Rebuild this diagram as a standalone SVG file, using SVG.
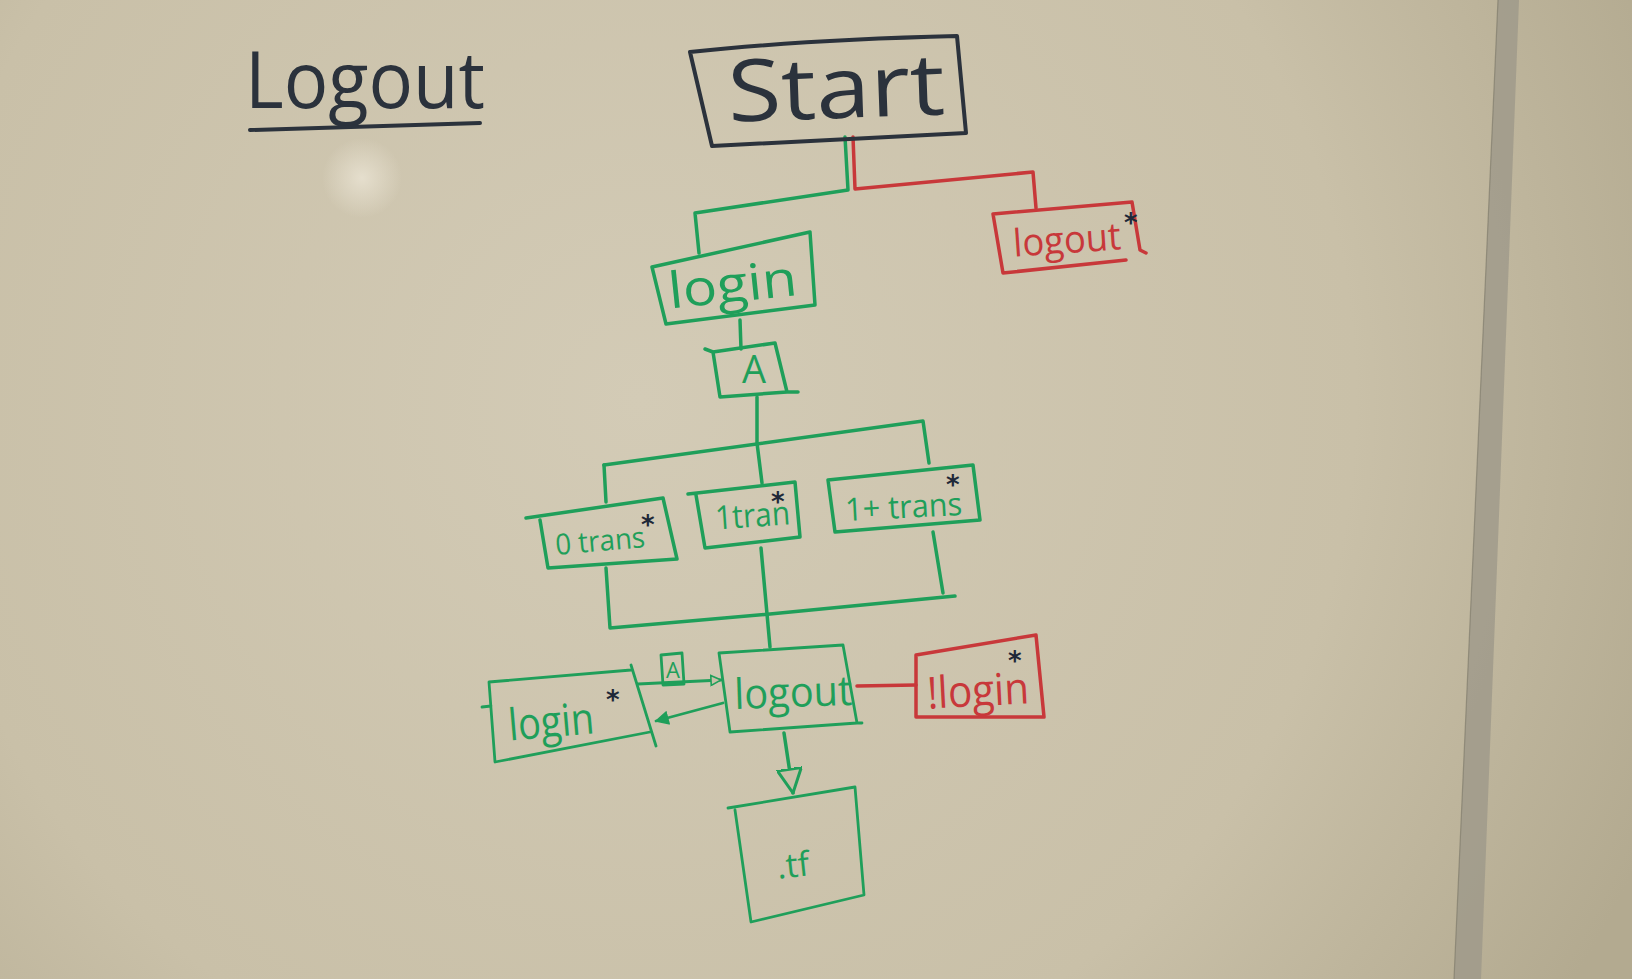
<svg xmlns="http://www.w3.org/2000/svg" width="1632" height="979" viewBox="0 0 1632 979">
<defs>
<radialGradient id="board" cx="640" cy="400" r="1100" gradientUnits="userSpaceOnUse">
<stop offset="0" stop-color="#d3cbb6"/>
<stop offset="0.65" stop-color="#c9c0a8"/>
<stop offset="1" stop-color="#b3aa90"/>
</radialGradient>
<radialGradient id="glare" cx="362" cy="178" r="40" gradientUnits="userSpaceOnUse">
<stop offset="0" stop-color="#efe9da" stop-opacity="0.7"/>
<stop offset="1" stop-color="#efe9da" stop-opacity="0"/>
</radialGradient>
<marker id="openTri" viewBox="0 0 12 12" refX="11" refY="6" markerWidth="12" markerHeight="12" markerUnits="userSpaceOnUse" orient="auto">
<path d="M1,1 L11,6 L1,11 z" fill="#c9c0a8" stroke="#1f9f5a" stroke-width="1.6"/>
</marker>
<marker id="openTriBig" viewBox="0 0 26 26" refX="25" refY="13" markerWidth="26" markerHeight="26" markerUnits="userSpaceOnUse" orient="auto">
<path d="M1,1 L25,13 L1,25 z" fill="#c9c0a8" stroke="#1f9f5a" stroke-width="3"/>
</marker>
<marker id="fillTri" viewBox="0 0 14 14" refX="13" refY="7" markerWidth="14" markerHeight="14" markerUnits="userSpaceOnUse" orient="auto">
<path d="M1,1 L13,7 L1,13 z" fill="#1f9f5a" stroke="#1f9f5a" stroke-width="1.5"/>
</marker>
<style>
.g{stroke:#1f9f5a;fill:none;stroke-width:3.5;stroke-linejoin:round;stroke-linecap:round}
.gt{stroke:#1f9f5a;fill:none;stroke-width:2.8;stroke-linejoin:round;stroke-linecap:round}
.r{stroke:#c8383a;fill:none;stroke-width:3.5;stroke-linejoin:round;stroke-linecap:round}
.k{stroke:#2b323c;fill:none;stroke-width:4;stroke-linejoin:round;stroke-linecap:round}
text{font-family:"Open Sans","DejaVu Sans",sans-serif}
.tg{fill:#1f9f5a}
.tr{fill:#c8383a}
.tk{fill:#2b323c}
.ast{fill:#1e2838;font-family:"DejaVu Sans",sans-serif;font-weight:bold}
</style>
</defs>

<rect x="0" y="0" width="1632" height="979" fill="url(#board)"/>
<circle cx="362" cy="178" r="40" fill="url(#glare)"/>
<polygon points="1498,0 1519,0 1481,979 1454,979" fill="#9d998a" opacity="0.8"/>
<line x1="1498" y1="0" x2="1454" y2="979" stroke="#6f6c5e" stroke-width="1.2" opacity="0.5"/>

<g id="title">
<text x="245" y="108" font-size="78" class="tk" textLength="240" lengthAdjust="spacingAndGlyphs">Logout</text>
<path class="k" d="M250,130 L480,123" stroke-width="3"/>
</g>

<g id="connectors">
<path class="g" d="M845,137 L848,190 L695,213 L699,253"/>
<path class="r" d="M853,137 L855,189 L1033,172 L1036,208"/>
<path class="g" d="M740,320 L741,349"/>
<path class="g" d="M757,397 L757,443 L762,483"/>
<path class="g" d="M604,465 L923,421 L929,463"/>
<path class="g" d="M604,465 L606,502"/>
<path class="g" d="M606,568 L610,628 L770,614 L955,596"/>
<path class="g" d="M933,532 L943,593"/>
<path class="g" d="M761,548 L770,647"/>
<path class="gt" d="M638,684 L721,680" marker-end="url(#openTri)"/>
<g id="guard-A">
<path class="gt" d="M661,655 L682,653 L684,684 L663,685 Z"/>
<text x="673" y="678" font-size="22" class="tg" text-anchor="middle">A</text>
</g>
<path class="gt" d="M723,703 L656,721" marker-end="url(#fillTri)"/>
<path class="r" stroke-width="2.8" d="M857,686 L916,685"/>
<path class="g" d="M784,733 L793,793" marker-end="url(#openTriBig)"/>
</g>

<g id="node-start">
<path class="k" d="M690,52 Q800,40 957,36 L966,133 L712,146 Z"/>
<text x="728" y="118" font-size="86" class="tk" textLength="217" lengthAdjust="spacingAndGlyphs" transform="rotate(-2 836 95)">Start</text>
</g>

<g id="node-logout-red">
<path class="r" d="M993,214 L1132,202 L1140,250 L1146,253 M1126,260 L1003,273 L993,214"/>
<text x="1013" y="253" font-size="38" class="tr" textLength="108" lengthAdjust="spacingAndGlyphs" transform="rotate(-4 1067 240)">logout</text>
<text x="1124" y="232" font-size="26" class="ast">*</text>
</g>

<g id="node-login">
<path class="g" d="M652,267 L810,232 L815,305 L666,324 Z"/>
<text x="668" y="302" font-size="50" class="tg" textLength="129" lengthAdjust="spacingAndGlyphs" transform="rotate(-6 732 285)">login</text>
</g>

<g id="node-A">
<path class="g" d="M705,349 L713,352 L720,397 L787,392 L798,392 M713,352 L775,343 L787,392"/>
<text x="754" y="383" font-size="38" class="tg" text-anchor="middle">A</text>
</g>

<g id="node-0trans">
<path class="g" d="M526,518 L663,498 L677,559 L548,568 L540,520"/>
<text x="555" y="551" font-size="29" class="tg" textLength="90" lengthAdjust="spacingAndGlyphs" transform="rotate(-5 600 540)">0 trans</text>
<text x="641" y="534" font-size="26" class="ast">*</text>
</g>

<g id="node-1tran">
<path class="g" d="M688,494 L795,482 L800,537 L705,548 L696,495"/>
<text x="715" y="527" font-size="33" class="tg" textLength="75" lengthAdjust="spacingAndGlyphs" transform="rotate(-4 752 515)">1tran</text>
<text x="771" y="511" font-size="26" class="ast">*</text>
</g>

<g id="node-1plustrans">
<path class="g" d="M828,480 L973,465 L980,520 L835,532 Z"/>
<text x="845" y="518" font-size="32" class="tg" textLength="117" lengthAdjust="spacingAndGlyphs" transform="rotate(-3 903 505)">1+ trans</text>
<text x="946" y="494" font-size="26" class="ast">*</text>
</g>

<g id="node-login-star">
<path class="gt" d="M489,682 L631,670 M482,707 L491,706 M489,682 L495,762 L650,732 M631,665 L656,746"/>
<text x="508" y="737" font-size="44" class="tg" textLength="86" lengthAdjust="spacingAndGlyphs" transform="rotate(-5 550 720)">login</text>
<text x="606" y="709" font-size="26" class="ast">*</text>
</g>

<g id="node-logout">
<path class="gt" d="M719,653 L843,645 L857,723 L862,723 M730,732 L857,723 M719,653 L730,732"/>
<text x="734" y="707" font-size="42" class="tg" textLength="118" lengthAdjust="spacingAndGlyphs" transform="rotate(-2 793 690)">logout</text>
</g>

<g id="node-not-login">
<path class="r" stroke-width="3" d="M916,655 L1036,635 L1044,717 L916,717 Z"/>
<text x="927" y="706" font-size="44" class="tr" textLength="102" lengthAdjust="spacingAndGlyphs" transform="rotate(-3 978 690)">!login</text>
<text x="1008" y="670" font-size="26" class="ast">*</text>
</g>

<g id="node-tf">
<path class="gt" d="M728,808 L855,787 L864,895 L751,922 L735,810"/>
<text x="793" y="877" font-size="34" class="tg" text-anchor="middle" transform="rotate(-6 793 865)">.tf</text>
</g>
</svg>
